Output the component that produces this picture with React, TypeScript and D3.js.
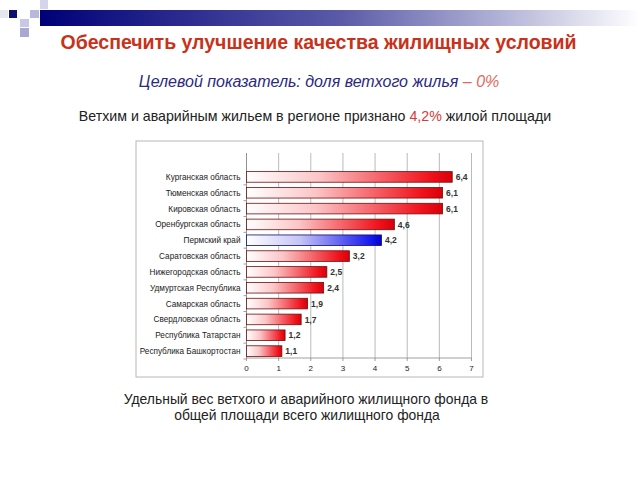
import React from "react";
import * as d3 from "d3";

const regions = [
  "Курганская область",
  "Тюменская область",
  "Кировская область",
  "Оренбургская область",
  "Пермский край",
  "Саратовская область",
  "Нижегородская область",
  "Удмуртская Республика",
  "Самарская область",
  "Свердловская область",
  "Республика Татарстан",
  "Республика Башкортостан",
];
const shares = [6.4, 6.1, 6.1, 4.6, 4.2, 3.2, 2.5, 2.4, 1.9, 1.7, 1.2, 1.1];
const highlighted = ["Пермский край"];
const xTicks = [0, 1, 2, 3, 4, 5, 6, 7];

const FONT = "'Liberation Sans', Arial, sans-serif";

export default function App() {
  const W = 640;
  const H = 480;
  const plotLeft = 246.5;
  const plotRight = 471.5;
  const plotTop = 153;
  const plotBottom = 358;

  const x = d3.scaleLinear().domain([0, 7]).range([plotLeft, plotRight]);
  const y = d3
    .scaleBand<string>()
    .domain(regions)
    .range([169, 359])
    .paddingInner(0.33)
    .paddingOuter(0.165);

  const fmt = (v: number) => String(v).replace(".", ",");

  return (
    <svg
      width={W}
      height={H}
      viewBox={`0 0 ${W} ${H}`}
      style={{ position: "absolute", left: 0, top: 0, background: "#fff" }}
    >
      <defs>
        <linearGradient id="hdr" x1="0" y1="0" x2="1" y2="0">
          <stop offset="0" stopColor="#000078" />
          <stop offset="0.5" stopColor="#5a5aa8" />
          <stop offset="1" stopColor="#ffffff" />
        </linearGradient>
        <linearGradient id="redGrad" x1="0" y1="0" x2="1" y2="0">
          <stop offset="0" stopColor="#ffffff" />
          <stop offset="0.35" stopColor="#fbc6c8" />
          <stop offset="0.9" stopColor="#f0101a" />
          <stop offset="1" stopColor="#d8000a" />
        </linearGradient>
        <linearGradient id="blueGrad" x1="0" y1="0" x2="1" y2="0">
          <stop offset="0" stopColor="#ffffff" />
          <stop offset="0.4" stopColor="#c4c4f6" />
          <stop offset="0.92" stopColor="#1818f0" />
          <stop offset="1" stopColor="#0000d0" />
        </linearGradient>
      </defs>

      {/* header decoration */}
      <rect x={40} y={10} width={600} height={16} fill="url(#hdr)" />
      <rect x={9} y={10} width={8} height={8} fill="#10106e" />
      <rect x={0} y={10} width={8} height={8} fill="#e6e6f0" />
      <rect x={30} y={10} width={9} height={8} fill="#b8b8dc" />
      <rect x={40} y={0} width={8} height={9} fill="#d4d4ea" />
      <rect x={20} y={19} width={9} height={8} fill="#c8c8e4" />
      <rect x={20} y={28} width={9} height={9} fill="#a8a8d0" />

      {/* titles */}
      <text
        x={318.5}
        y={49}
        textAnchor="middle"
        fontFamily={FONT}
        fontWeight="bold"
        fontSize={19.5}
        fill="#c8321a"
      >
        Обеспечить улучшение качества жилищных условий
      </text>
      <text
        x={319}
        y={87}
        textAnchor="middle"
        fontFamily={FONT}
        fontStyle="italic"
        fontSize={16}
        fill="#2a2a80"
      >
        Целевой показатель: доля ветхого жилья
        <tspan fill="#e06a5a"> – 0%</tspan>
      </text>
      <text
        x={315}
        y={121}
        textAnchor="middle"
        fontFamily={FONT}
        fontSize={14.2}
        fill="#222"
      >
        Ветхим и аварийным жильем в регионе признано
        <tspan fill="#d83a3a"> 4,2%</tspan> жилой площади
      </text>

      {/* chart frame */}
      <rect
        x={136}
        y={141}
        width={347}
        height={236}
        fill="#fff"
        stroke="#b8b8b8"
        strokeWidth={1}
      />

      {/* gridlines */}
      {xTicks.map((t) => (
        <line
          key={"g" + t}
          x1={x(t)}
          x2={x(t)}
          y1={plotTop}
          y2={plotBottom}
          stroke="#a8a8a8"
          strokeWidth={0.8}
        />
      ))}
      {/* axes */}
      <line x1={plotLeft} x2={plotRight} y1={plotBottom} y2={plotBottom} stroke="#888" strokeWidth={0.8} />
      <line x1={plotLeft} x2={plotLeft} y1={plotTop} y2={plotBottom} stroke="#888" strokeWidth={0.8} />
      {xTicks.map((t) => (
        <line key={"t" + t} x1={x(t)} x2={x(t)} y1={plotBottom} y2={plotBottom + 3} stroke="#888" strokeWidth={0.8} />
      ))}
      {regions.map((r) => (
        <line
          key={"yt" + r}
          x1={plotLeft - 3}
          x2={plotLeft}
          y1={(y(r) as number) + y.bandwidth() + (y.step() - y.bandwidth()) / 2}
          y2={(y(r) as number) + y.bandwidth() + (y.step() - y.bandwidth()) / 2}
          stroke="#888"
          strokeWidth={0.8}
        />
      ))}
      {xTicks.map((t) => (
        <text
          key={"tl" + t}
          x={x(t)}
          y={plotBottom + 13}
          textAnchor="middle"
          fontFamily={FONT}
          fontSize={8}
          fill="#222"
        >
          {t}
        </text>
      ))}

      {/* bars */}
      {regions.map((r, i) => {
        const v = shares[i];
        const yy = y(r) as number;
        const hi = highlighted.includes(r);
        return (
          <g key={r}>
            <rect
              x={x(0)}
              y={yy}
              width={x(v) - x(0)}
              height={y.bandwidth()}
              fill={hi ? "url(#blueGrad)" : "url(#redGrad)"}
              stroke={hi ? "#10106a" : "#6a1010"}
              strokeWidth={0.8}
            />
            <text
              x={x(v) + 3.5}
              y={yy + y.bandwidth() / 2 + 3.2}
              fontFamily={FONT}
              fontWeight="bold"
              fontSize={8.5}
              fill="#333"
            >
              {fmt(v)}
            </text>
            <text
              x={plotLeft - 6}
              y={yy + y.bandwidth() / 2 + 3}
              textAnchor="end"
              fontFamily={FONT}
              fontSize={8.2}
              fill="#222"
            >
              {r}
            </text>
          </g>
        );
      })}

      {/* caption */}
      <text
        x={306}
        y={404}
        textAnchor="middle"
        fontFamily={FONT}
        fontSize={13.9}
        fill="#222"
      >
        Удельный вес ветхого и аварийного жилищного фонда в
      </text>
      <text
        x={307}
        y={420}
        textAnchor="middle"
        fontFamily={FONT}
        fontSize={13.9}
        fill="#222"
      >
        общей площади всего жилищного фонда
      </text>
    </svg>
  );
}
